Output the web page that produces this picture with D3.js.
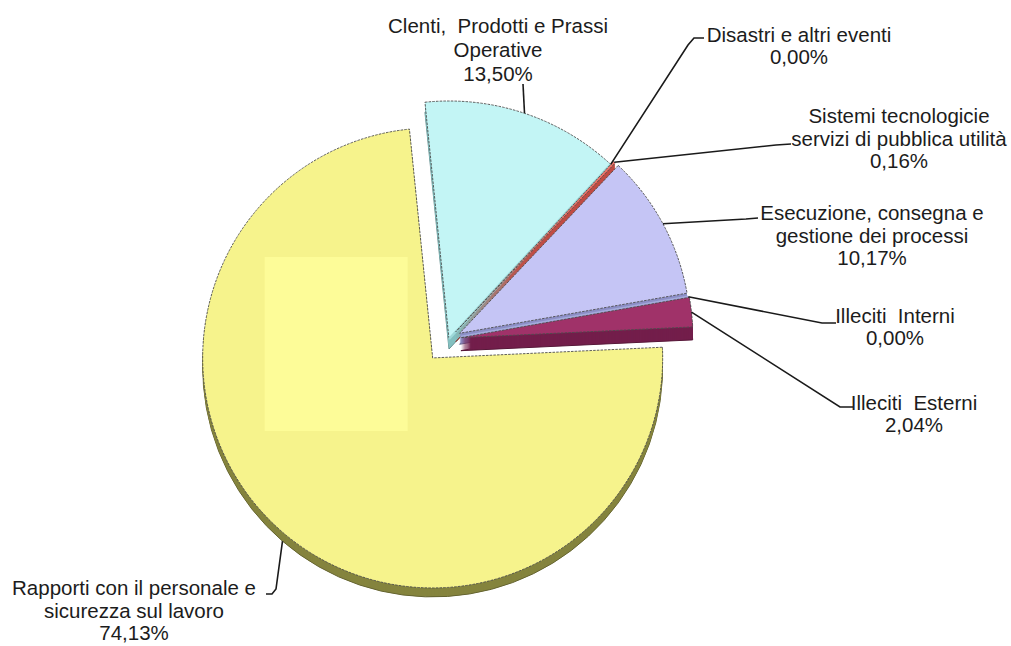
<!DOCTYPE html>
<html><head><meta charset="utf-8">
<script src="https://cdn.jsdelivr.net/npm/d3@7"></script>
<style>
body{margin:0;background:#fff}
svg text{font-family:"Liberation Sans",Arial,sans-serif;font-size:20.5px;fill:#1c1c1c;white-space:pre}
</style>
</head><body>
<svg id="chart" width="1011" height="646"></svg>
<script>
// ---- data ----
const categories = [
  "Clienti, Prodotti e Prassi Operative",
  "Disastri e altri eventi",
  "Sistemi tecnologici e servizi di pubblica utilità",
  "Esecuzione, consegna e gestione dei processi",
  "Illeciti Interni",
  "Illeciti Esterni",
  "Rapporti con il personale e sicurezza sul lavoro"
];
const labelLines = [
  ["Clenti,  Prodotti e Prassi", "Operative"],
  ["Disastri e altri eventi"],
  ["Sistemi tecnologicie", "servizi di pubblica utilità"],
  ["Esecuzione, consegna e", "gestione dei processi"],
  ["Illeciti  Interni"],
  ["Illeciti  Esterni"],
  ["Rapporti con il personale e", "sicurezza sul lavoro"]
];
const values = [13.50, 0.00, 0.16, 10.17, 0.00, 2.04, 74.13];

// ---- style / layout ----
const topColors  = ["#c3f5f5", "#9fd9d9", "#f07369", "#c5c5f5", "#a3abdc", "#a03269", "#f6f38c"];
const sideColors = ["#84c0c0", "#84c0c0", "#c04c44", "#8d8fc6", "#8d8fc6", "#731e4b", "#85843e"];
const explode    = [0, 0, 10, 12, 12, 12, 25];
const radii      = [238, 238, 232, 231, 231, 232, 230];
const depths     = [10, 10, 10, 11, 11, 13, 9];
const pieCx = 449, pieCy = 339;
const startDeg = -5.8;
const labelLayout = [
  {x: 498, y: 33,  lh: 24,   leader: [[523, 84]]},
  {x: 799, y: 42,  lh: 22,   leader: [[688, 45], [694, 38], [704, 38]]},
  {x: 899, y: 123, lh: 22.5, leader: [[776, 145], [791, 144]]},
  {x: 872, y: 220, lh: 22.5, leader: [[746, 219], [758, 218]]},
  {x: 895, y: 323, lh: 22,   leader: [[822, 323], [836, 323]]},
  {x: 914, y: 410, lh: 22,   leader: [[840, 407], [853, 407]]},
  {x: 134, y: 595, lh: 22.5, leader: [[276, 589], [272, 594], [266, 594]]}
];

const svg = d3.select("#chart");
const fmt = v => d3.format(".2f")(v).replace(".", ",") + "%";

const a0 = startDeg * Math.PI / 180;
const pie = d3.pie().sort(null).value(d => d).startAngle(a0).endAngle(a0 + 2 * Math.PI);
const arcs = pie(values).map((p, i) => {
  const mid = (p.startAngle + p.endAngle) / 2;
  const ox = pieCx + explode[i] * Math.sin(mid);
  const oy = pieCy - explode[i] * Math.cos(mid);
  return {p, i, mid, ox, oy, r: radii[i]};
});
const arcGen = d => d3.arc().innerRadius(0).outerRadius(d.r)(d.p);

// extrusions (side faces)
const sides = svg.append("g");
arcs.filter(d => d.p.value > 0).forEach(d => {
  const dep = depths[d.i];
  for (let k = dep; k >= 1; k--) {
    sides.append("path")
      .attr("d", arcGen(d))
      .attr("transform", `translate(${d.ox},${d.oy + k})`)
      .attr("fill", sideColors[d.i])
      .attr("stroke", k === dep ? d3.color(sideColors[d.i]).darker(0.8) : "none")
      .attr("stroke-width", 1);
  }
});

// top faces
const tops = svg.append("g");
arcs.forEach(d => {
  const zero = d.p.value === 0;
  tops.append("path")
    .attr("d", arcGen(d))
    .attr("transform", `translate(${d.ox},${d.oy})`)
    .attr("fill", zero ? "none" : topColors[d.i])
    .attr("stroke", zero ? topColors[d.i] : "#4d4d4d")
    .attr("stroke-width", zero ? 2.5 : 0.9)
    .attr("stroke-dasharray", zero ? null : "2.5,1.2");
});

// lighter patch on the large slice
const big = arcs[6];
svg.append("rect")
  .attr("x", big.ox - 168).attr("y", big.oy - 101)
  .attr("width", 143).attr("height", 174)
  .attr("fill", "#fdfc98");

// labels & leaders
const lab = svg.append("g");
arcs.forEach(d => {
  const L = labelLayout[d.i];
  const extra = d.i === 6 ? depths[6] : 0;
  const sx = d.ox + d.r * Math.sin(d.mid);
  const sy = d.oy - d.r * Math.cos(d.mid) + extra;
  const pts = [[sx, sy], ...L.leader];
  lab.append("path")
    .attr("d", d3.line()(pts))
    .attr("fill", "none").attr("stroke", "#1a1a1a").attr("stroke-width", 1.6);
  const lines = [...labelLines[d.i], fmt(values[d.i])];
  const t = lab.append("text").attr("text-anchor", "middle");
  lines.forEach((s, j) => {
    t.append("tspan").attr("x", L.x).attr("y", L.y + j * L.lh).text(s);
  });
});
</script>
</body></html>
